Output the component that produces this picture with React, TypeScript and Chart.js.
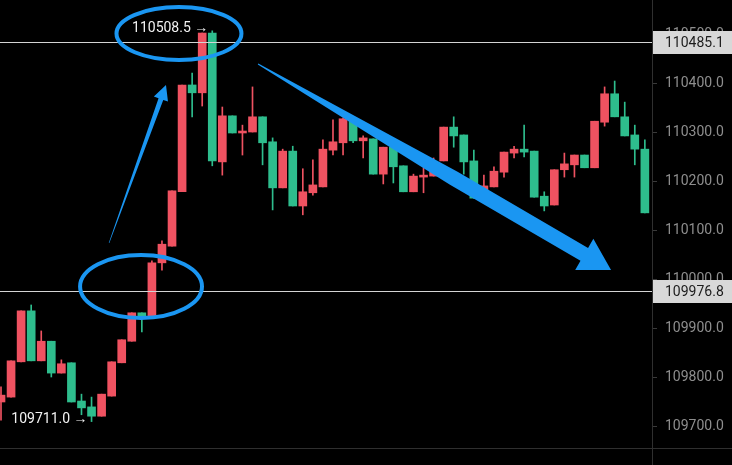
import React, { useEffect, useRef } from 'react';
import { Chart, registerables } from 'chart.js';

Chart.register(...registerables);

// ---- data (OHLC per candle) ----
const opens = [
  109751, 109761, 109833, 109937, 109835, 109875, 109810, 109831, 109753, 109741,
  109722, 109763, 109831, 109875, 109933, 109926, 110035, 110069, 110180, 110398,
  110382, 110504, 110241, 110335, 110300, 110302, 110333, 110282, 110188, 110263,
  110151, 110178, 110190, 110265, 110280, 110329, 110284, 110288, 110216, 110271,
  110233, 110180, 110210, 110212, 110243, 110312, 110296, 110243, 110180, 110190,
  110220, 110259, 110267, 110263, 110171, 110153, 110225, 110235, 110255, 110229,
  110322, 110380, 110333, 110296, 110267,
];
const highs = [
  109782, 109835, 109937, 109949, 109896, 109875, 109837, 109831, 109767, 109761,
  109767, 109833, 109878, 109933, 109933, 110039, 110080, 110182, 110398, 110422,
  110504, 110508.5, 110353, 110335, 110316, 110394, 110333, 110290, 110267, 110273,
  110227, 110245, 110286, 110327, 110331, 110329, 110294, 110288, 110271, 110271,
  110233, 110216, 110229, 110249, 110312, 110333, 110296, 110265, 110214, 110231,
  110261, 110273, 110316, 110263, 110180, 110225, 110259, 110255, 110255, 110324,
  110394, 110406, 110363, 110316, 110286,
];
const lows = [
  109714, 109761, 109833, 109835, 109835, 109802, 109810, 109751, 109725, 109711,
  109722, 109763, 109831, 109875, 109894, 109926, 110020, 110069, 110180, 110333,
  110355, 110233, 110214, 110300, 110255, 110302, 110235, 110143, 110188, 110151,
  110133, 110173, 110190, 110255, 110255, 110280, 110249, 110216, 110196, 110198,
  110180, 110180, 110178, 110212, 110243, 110271, 110216, 110167, 110176, 110190,
  110210, 110249, 110251, 110169, 110141, 110153, 110210, 110210, 110229, 110229,
  110314, 110333, 110294, 110235, 110137,
];
const closes = [
  109765, 109835, 109937, 109835, 109875, 109810, 109829, 109751, 109739, 109722,
  109767, 109833, 109878, 109933, 109926, 110035, 110073, 110182, 110398, 110382,
  110504, 110243, 110335, 110300, 110304, 110333, 110280, 110188, 110263, 110151,
  110180, 110194, 110267, 110282, 110329, 110284, 110290, 110216, 110271, 110231,
  110180, 110212, 110214, 110229, 110312, 110294, 110241, 110167, 110192, 110222,
  110261, 110267, 110261, 110169, 110151, 110225, 110237, 110255, 110229, 110324,
  110380, 110333, 110294, 110267, 110137,
];
const candleIndex = opens.map((_, i) => i);

// axis & markers
const yMin = 109657.1;
const yMax = 110571.4;
const xMin = -0.0994;
const xMax = 64.71;
const priceLines = [110485.1, 109976.8];
const highMark = { index: 21, value: 110508.5 };
const lowMark = { index: 9, value: 109711.0 };

// hand-drawn annotations, anchored in data space: [index, price]
const ellipseCenters = [
  [17.69, 110503],
  [13.92, 109986.7],
];
const ellipseRadii = [
  [6.21, 54],
  [6.06, 64.3],
];
const arrowTails = [
  [10.74, 110075.5],
  [25.55, 110440.8],
];
const arrowTips = [
  [16.4, 110398],
  [60.64, 110020.4],
];

const UP = '#ef5261';
const DOWN = '#2ebd8d';
const BLUE = '#1a96f2';
const FONT = 'Roboto, "Noto Sans", sans-serif';

function drawArrow(
  ctx: CanvasRenderingContext2D,
  tail: [number, number],
  tip: [number, number],
  w0: number,
  w1: number,
  taper: number,
  headLen: number,
  headW: number
) {
  const dx = tip[0] - tail[0];
  const dy = tip[1] - tail[1];
  const len = Math.hypot(dx, dy);
  const ux = dx / len;
  const uy = dy / len;
  const nx = -uy;
  const ny = ux;
  const bx = tip[0] - ux * headLen;
  const by = tip[1] - uy * headLen;
  const shaftLen = len - headLen;
  const mx = tail[0] + ux * shaftLen * taper;
  const my = tail[1] + uy * shaftLen * taper;
  ctx.beginPath();
  ctx.moveTo(tail[0] + (nx * w0) / 2, tail[1] + (ny * w0) / 2);
  ctx.lineTo(mx + (nx * w1) / 2, my + (ny * w1) / 2);
  ctx.lineTo(bx + (nx * w1) / 2, by + (ny * w1) / 2);
  ctx.lineTo(bx + (nx * headW) / 2, by + (ny * headW) / 2);
  ctx.lineTo(tip[0], tip[1]);
  ctx.lineTo(bx - (nx * headW) / 2, by - (ny * headW) / 2);
  ctx.lineTo(bx - (nx * w1) / 2, by - (ny * w1) / 2);
  ctx.lineTo(mx - (nx * w1) / 2, my - (ny * w1) / 2);
  ctx.lineTo(tail[0] - (nx * w0) / 2, tail[1] - (ny * w0) / 2);
  ctx.closePath();
  ctx.fill();
}

const overlayPlugin = {
  id: 'overlay',
  afterDatasetsDraw(chart: any) {
    const { ctx, chartArea } = chart;
    const xs = chart.scales.x;
    const ys = chart.scales.y;
    ctx.save();
    // price lines
    ctx.strokeStyle = '#d4d4d4';
    ctx.lineWidth = 1;
    priceLines.forEach((v) => {
      const py = Math.round(ys.getPixelForValue(v)) + 0.5;
      ctx.beginPath();
      ctx.moveTo(chartArea.left, py);
      ctx.lineTo(chartArea.right, py);
      ctx.stroke();
    });
    // high / low markers
    ctx.fillStyle = '#f2f2f2';
    ctx.font = `14px ${FONT}`;
    ctx.textAlign = 'right';
    ctx.textBaseline = 'middle';
    [highMark, lowMark].forEach((m) => {
      const px = xs.getPixelForValue(m.index) - 4;
      const py = ys.getPixelForValue(m.value) - 2;
      ctx.fillText(`${m.value.toFixed(1)} →`, px, py);
    });
    // ellipses
    ctx.strokeStyle = BLUE;
    ctx.lineWidth = 4;
    ellipseCenters.forEach((c, i) => {
      const cx = xs.getPixelForValue(c[0]);
      const cy = ys.getPixelForValue(c[1]);
      const rx = Math.abs(xs.getPixelForValue(c[0] + ellipseRadii[i][0]) - cx);
      const ry = Math.abs(ys.getPixelForValue(c[1] + ellipseRadii[i][1]) - cy);
      ctx.beginPath();
      ctx.ellipse(cx, cy, rx, ry, 0, 0, Math.PI * 2);
      ctx.stroke();
    });
    // arrows
    ctx.fillStyle = BLUE;
    const arrowStyle = [
      { w0: 0.6, w1: 5, taper: 1, headLen: 15, headW: 15 },
      { w0: 1, w1: 15, taper: 0.6, headLen: 31, headW: 36 },
    ];
    arrowTails.forEach((t, i) => {
      const tail: [number, number] = [xs.getPixelForValue(t[0]), ys.getPixelForValue(t[1])];
      const tip: [number, number] = [
        xs.getPixelForValue(arrowTips[i][0]),
        ys.getPixelForValue(arrowTips[i][1]),
      ];
      const s = arrowStyle[i];
      drawArrow(ctx, tail, tip, s.w0, s.w1, s.taper, s.headLen, s.headW);
    });
    ctx.restore();
  },
  afterDraw(chart: any) {
    const { ctx, chartArea, width, height } = chart;
    const ys = chart.scales.y;
    ctx.save();
    ctx.strokeStyle = '#2f2f2f';
    ctx.lineWidth = 1;
    ctx.beginPath();
    ctx.moveTo(chartArea.right + 0.5, 0);
    ctx.lineTo(chartArea.right + 0.5, height);
    ctx.moveTo(0, chartArea.bottom + 0.5);
    ctx.lineTo(width, chartArea.bottom + 0.5);
    ctx.stroke();
    // price boxes
    ctx.font = `14px ${FONT}`;
    ctx.textAlign = 'left';
    ctx.textBaseline = 'middle';
    priceLines.forEach((v) => {
      const py = Math.round(ys.getPixelForValue(v));
      ctx.fillStyle = '#d8d8d8';
      ctx.fillRect(chartArea.right + 1, py - 11, width - chartArea.right - 1, 23);
      ctx.fillStyle = '#1c1c1c';
      ctx.fillText(v.toFixed(1), chartArea.right + 13, py + 1);
    });
    ctx.restore();
  },
};

export default function App() {
  const ref = useRef<HTMLCanvasElement | null>(null);

  useEffect(() => {
    if (!ref.current) return;
    const colors = candleIndex.map((i) => (closes[i] >= opens[i] ? UP : DOWN));
    const chart = new Chart(ref.current, {
      type: 'bar',
      data: {
        datasets: [
          {
            label: 'body',
            data: candleIndex.map((i) => ({ x: i, y: [opens[i], closes[i]] })) as any,
            backgroundColor: colors,
            borderWidth: 0,
            barThickness: 8,
            minBarLength: 1,
            grouped: false,
            order: 0,
          } as any,
          {
            label: 'wick',
            data: candleIndex.map((i) => ({ x: i, y: [lows[i], highs[i]] })) as any,
            backgroundColor: colors,
            borderWidth: 0,
            barThickness: 1,
            grouped: false,
            order: 1,
          } as any,
        ],
      },
      options: {
        responsive: false,
        animation: false,
        events: [],
        layout: { padding: { top: 0, left: 0, right: 0, bottom: 17 } },
        plugins: {
          legend: { display: false },
          tooltip: { enabled: false },
        },
        scales: {
          x: {
            type: 'linear',
            min: xMin,
            max: xMax,
            offset: false,
            display: false,
          },
          y: {
            type: 'linear',
            position: 'right',
            min: yMin,
            max: yMax,
            beginAtZero: false,
            border: { display: false },
            grid: {
              drawOnChartArea: false,
              drawTicks: true,
              tickLength: 5,
              color: '#3a3a3a',
            },
            ticks: {
              stepSize: 100,
              padding: 8,
              color: '#8e8e8e',
              font: { family: FONT, size: 14 },
              autoSkip: false,
              callback: (v: any) => Number(v).toFixed(1),
            },
            afterBuildTicks: (s: any) => {
              s.ticks = s.ticks.filter(
                (t: any) => Math.abs(t.value / 100 - Math.round(t.value / 100)) < 1e-6
              );
            },
            afterFit: (s: any) => {
              s.width = 80;
              s.paddingTop = 0;
              s.paddingBottom = 0;
            },
          } as any,
        },
      },
      plugins: [overlayPlugin],
    });
    return () => chart.destroy();
  }, []);

  return (
    <div
      style={{
        position: 'fixed',
        left: 0,
        top: 0,
        width: 732,
        height: 465,
        background: '#000',
        overflow: 'hidden',
      }}
    >
      <canvas ref={ref} width={732} height={465} style={{ display: 'block' }} />
    </div>
  );
}
